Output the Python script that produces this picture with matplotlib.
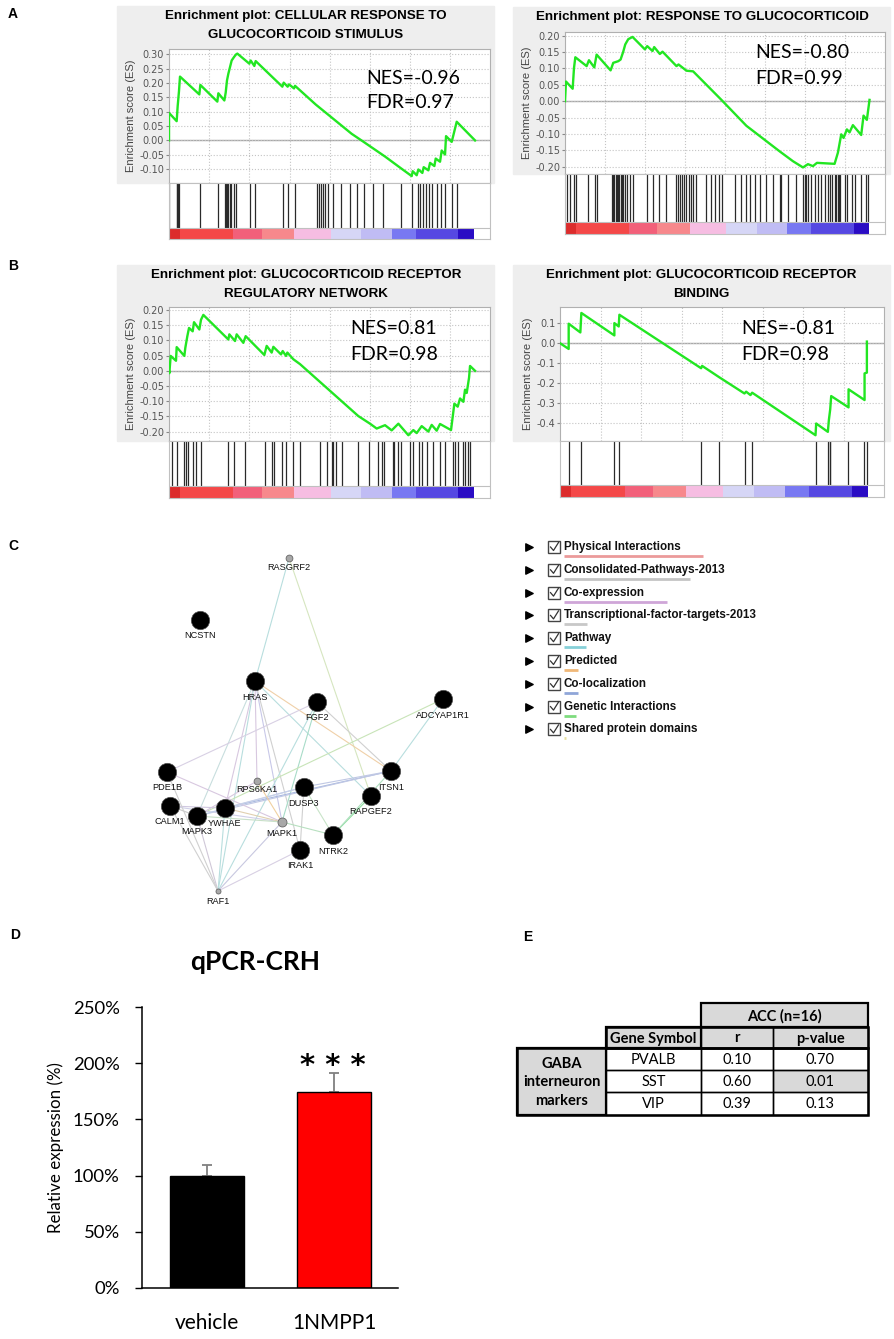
import matplotlib
matplotlib.use("Agg")
import matplotlib.pyplot as plt
import numpy as np

W, H = 895, 1339

# ---------------- GSEA data (rank in ranked gene list, running ES) ----------------
list_len = 19000

es_a1_x = [0, 0, 477, 539, 622, 684, 1887, 1950, 3007, 3070, 3443, 3526, 3609, 3692, 3795, 3899,
           4044, 4169, 4252, 4998, 5081, 5309, 5392, 7052, 7135, 7383, 7466, 7777, 7840, 9126,
           11365, 12029, 13440, 14435, 15099, 15161, 15410, 15514, 15762, 15845, 16136, 16240,
           16509, 16592, 16862, 16965, 17173, 17235, 17588, 17899, 19040]
es_a1_y = [0.000, 0.096, 0.067, 0.119, 0.172, 0.222, 0.160, 0.193, 0.135, 0.164, 0.139, 0.166,
           0.209, 0.232, 0.255, 0.278, 0.290, 0.299, 0.302, 0.267, 0.278, 0.259, 0.276, 0.187,
           0.201, 0.187, 0.195, 0.181, 0.190, 0.125, 0.023, -0.002, -0.056, -0.097, -0.124,
           -0.107, -0.121, -0.101, -0.113, -0.093, -0.104, -0.078, -0.089, -0.063, -0.074,
           -0.035, -0.049, 0.015, -0.005, 0.065, 0.000]
hits_a1 = [0, 477, 518, 581, 643, 1929, 3028, 3484, 3546, 3609, 3692, 3775, 3858, 4024, 4190,
           5039, 5350, 7114, 7425, 7840, 9188, 9334, 9458, 9583, 9707, 9915, 10226, 10703, 11261,
           11676, 12153, 12712, 13335, 14435, 15099, 15472, 15617, 15804, 15970, 16177, 16343,
           16654, 16924, 17173, 17629, 17899]

es_a2_x = [0, 62, 478, 561, 644, 1350, 1495, 1828, 1973, 2845, 3012, 3323, 3469, 3635, 3759,
           3946, 4216, 4985, 5130, 5462, 5566, 5919, 6086, 6958, 7083, 7581, 7996, 9762, 11320,
           12358, 13397, 14227, 14851, 15162, 15474, 15723, 16824, 17031, 17239, 17384, 17592,
           17758, 17966, 18485, 18630, 18838, 19004]
es_a2_y = [0.000, 0.060, 0.038, 0.101, 0.134, 0.107, 0.125, 0.103, 0.142, 0.094, 0.117, 0.122,
           0.127, 0.151, 0.173, 0.189, 0.196, 0.158, 0.168, 0.153, 0.165, 0.144, 0.151, 0.107,
           0.112, 0.093, 0.091, 0.004, -0.075, -0.114, -0.153, -0.183, -0.202, -0.192, -0.198,
           -0.188, -0.191, -0.157, -0.101, -0.112, -0.086, -0.095, -0.073, -0.103, -0.044,
           -0.057, 0.004]
hits_a2 = [104, 312, 561, 685, 1454, 1869, 2015, 2908, 3012, 3074, 3157, 3219, 3302, 3386, 3469,
           3552, 3635, 3739, 3842, 4050, 4216, 5089, 5462, 5878, 6293, 6958, 7062, 7166, 7332,
           7456, 7581, 7726, 7851, 7996, 8204, 8827, 9139, 9347, 9617, 9824, 10593, 11008, 11320,
           11527, 11839, 12150, 12566, 12981, 13397, 13501, 13916, 14435, 14851, 14955, 15059,
           15162, 15370, 15578, 15785, 15993, 16201, 16408, 16554, 16678, 16824, 16928, 17031,
           17094, 17177, 17447, 17592, 17925, 18070, 18485, 18755, 18900]

es_b1_x = [0, 21, 104, 436, 477, 954, 1016, 1141, 1245, 1473, 1556, 1887, 1991, 2136, 3692, 3754,
           4107, 4210, 4625, 4770, 5932, 6077, 6388, 6492, 6969, 7073, 7280, 7363, 7736, 8151,
           11780, 12506, 12921, 13440, 13854, 14269, 14891, 15202, 15410, 15721, 16136, 16343,
           16654, 16862, 17546, 17753, 17961, 18106, 18313, 18417, 18521, 18666, 18728, 19040]
es_b1_y = [0.000, -0.008, 0.049, 0.033, 0.078, 0.049, 0.076, 0.114, 0.141, 0.130, 0.160, 0.136,
           0.168, 0.184, 0.103, 0.120, 0.098, 0.120, 0.092, 0.114, 0.052, 0.082, 0.060, 0.079,
           0.054, 0.065, 0.049, 0.060, 0.038, 0.022, -0.149, -0.174, -0.190, -0.179, -0.196,
           -0.174, -0.212, -0.195, -0.205, -0.182, -0.200, -0.178, -0.197, -0.175, -0.195,
           -0.108, -0.118, -0.091, -0.102, -0.062, -0.073, -0.023, 0.016, 0.000]
hits_b1 = [207, 477, 954, 1037, 1161, 1514, 1659, 1991, 3692, 4044, 4729, 5973, 6388, 6554, 7052,
           7259, 7736, 8151, 9395, 9810, 10121, 10225, 10391, 10743, 11780, 12444, 12983, 13232,
           13398, 13917, 14020, 14269, 14435, 14995, 15202, 15555, 15721, 16032, 16447, 16862,
           17173, 17691, 17795, 18002, 18313, 18417, 18624, 18728]

es_b2_x = [0, 535, 535, 1254, 1316, 3351, 3351, 3619, 3660, 8697, 8758, 9828, 11370, 11473, 11740,
           11843, 15749, 15790, 16510, 16571, 16654, 16715, 17785, 17785, 18772, 18772, 18915, 18915]
es_b2_y = [0.000, -0.029, 0.098, 0.054, 0.152, 0.039, 0.101, 0.084, 0.143, -0.126, -0.114, -0.172,
           -0.253, -0.244, -0.261, -0.249, -0.463, -0.404, -0.446, -0.387, -0.333, -0.266, -0.323,
           -0.232, -0.286, -0.152, -0.148, 0.008]
hits_b2 = [535, 1295, 3351, 3619, 8697, 9828, 11411, 11843, 15749, 16510, 16612, 16654, 17765,
           18710, 18915]

heat_bounds = [0, 680, 4000, 5760, 7790, 10070, 11970, 13870, 15350, 18010, 19000]
heat_colors = ['#dc2c2c', '#f44848', '#f2607a', '#f7888c', '#f6bde2', '#d6d6f6', '#c0bcf4',
               '#7878f2', '#5648e2', '#2a0cc4']

titles = [["Enrichment plot: CELLULAR RESPONSE TO", "GLUCOCORTICOID STIMULUS"],
          ["Enrichment plot: RESPONSE TO GLUCOCORTICOID"],
          ["Enrichment plot: GLUCOCORTICOID RECEPTOR", "REGULATORY NETWORK"],
          ["Enrichment plot: GLUCOCORTICOID RECEPTOR", "BINDING"]]
nes_vals = ["-0.96", "-0.80", "0.81", "-0.81"]
fdr_vals = ["0.97", "0.99", "0.98", "0.98"]

# ---------------- network data ----------------
node_names = ['RASGRF2', 'NCSTN', 'HRAS', 'FGF2', 'ADCYAP1R1', 'PDE1B', 'RPS6KA1', 'DUSP3',
              'ITSN1', 'RAPGEF2', 'CALM1', 'MAPK3', 'YWHAE', 'MAPK1', 'NTRK2', 'IRAK1', 'RAF1']
node_x = [289, 200, 255, 317, 443, 167, 257, 304, 391, 371, 170, 197, 225, 282, 333, 300, 218]
node_y = [558, 620, 681, 702, 699, 772, 781, 787, 771, 796, 806, 816, 808, 822, 835, 850, 891]
node_kind = ['s', 'b', 'b', 'b', 'b', 'b', 's', 'b', 'b', 'b', 'b', 'b', 'b', 'm', 'b', 'b', 'x']
edges = [('RASGRF2', 'HRAS', '#b8dede'), ('RASGRF2', 'RAPGEF2', '#d6e6c0'),
         ('HRAS', 'ITSN1', '#f0d0a8'), ('HRAS', 'RAPGEF2', '#b8dede'),
         ('HRAS', 'MAPK3', '#c8dede'), ('HRAS', 'YWHAE', '#d8c8e0'),
         ('HRAS', 'RPS6KA1', '#d8c8e0'), ('HRAS', 'MAPK1', '#c8c8e8'),
         ('HRAS', 'IRAK1', '#d0d0d0'), ('HRAS', 'RAF1', '#b8dede'),
         ('FGF2', 'PDE1B', '#d8d0e4'), ('FGF2', 'ITSN1', '#d0d0d0'),
         ('FGF2', 'MAPK1', '#a8dcc8'), ('FGF2', 'RAF1', '#b8dede'),
         ('ADCYAP1R1', 'MAPK3', '#c8e4b8'), ('ADCYAP1R1', 'ITSN1', '#b8dede'),
         ('ITSN1', 'YWHAE', '#a8b8e0'), ('ITSN1', 'MAPK3', '#c0c8e4'),
         ('ITSN1', 'DUSP3', '#c0c8e4'), ('RAPGEF2', 'NTRK2', '#90e0a0'),
         ('ITSN1', 'NTRK2', '#b0e0c0'), ('DUSP3', 'NTRK2', '#c8e4c8'),
         ('DUSP3', 'IRAK1', '#d0d0d0'), ('MAPK1', 'NTRK2', '#b8e0c0'),
         ('PDE1B', 'MAPK1', '#d8c8e0'), ('CALM1', 'MAPK3', '#c8c8c8'),
         ('CALM1', 'YWHAE', '#d0c8e0'), ('CALM1', 'MAPK1', '#d0d0e8'),
         ('YWHAE', 'MAPK1', '#e0d0b0'), ('MAPK3', 'MAPK1', '#c8e0c8'),
         ('MAPK3', 'DUSP3', '#c0d0e8'), ('YWHAE', 'DUSP3', '#c8d0e8'),
         ('RAF1', 'MAPK3', '#d0c8d8'), ('RAF1', 'YWHAE', '#b8dede'),
         ('RAF1', 'MAPK1', '#c8c8e0'), ('RAF1', 'CALM1', '#d0d0d0'),
         ('RAF1', 'IRAK1', '#d8d0e4'), ('RAF1', 'PDE1B', '#d0d0d0'),
         ('RPS6KA1', 'MAPK1', '#f0d0a0'), ('RPS6KA1', 'MAPK3', '#d8c8e0')]

net_types = ['Physical Interactions', 'Consolidated-Pathways-2013', 'Co-expression',
             'Transcriptional-factor-targets-2013', 'Pathway', 'Predicted', 'Co-localization',
             'Genetic Interactions', 'Shared protein domains']
net_colors = ['#eb9a9a', '#c4c4c4', '#cfa6d8', '#c8c8c8', '#86d0d8', '#f0b878', '#8fa6d8',
              '#7edc7e', '#e8e0a0']
net_weights = [139, 126, 103, 23, 22, 14, 14, 12, 2]

# ---------------- qPCR data ----------------
groups = ['vehicle', '1NMPP1']
expr = [100, 174]
expr_err = [9, 17]

# ---------------- table data ----------------
genes = ['PVALB', 'SST', 'VIP']
r_vals = [0.10, 0.60, 0.39]
p_vals = [0.70, 0.01, 0.13]


def fx(x):
    return x / W


def fy(y):
    return 1 - y / H


def px_box(l, t, r, b):
    return [l / W, 1 - b / H, (r - l) / W, (b - t) / H]


fig = plt.figure(figsize=(W / 100, H / 100), dpi=100)
ov = fig.add_axes([0, 0, 1, 1])
ov.set_xlim(0, W)
ov.set_ylim(H, 0)
ov.axis('off')

# panel labels
for lab, (lx, ly) in zip('ABCDE', [(13, 14), (13, 266), (13, 546), (15, 935), (528, 937)]):
    fig.text(fx(lx), fy(ly), lab, fontsize=10, fontweight='bold', ha='center', va='center',
             family='Liberation Sans')

# ---------------- GSEA panels ----------------
panels = [
    dict(box=(117, 6, 494, 183), es=(169, 49, 490, 183), hit=(169, 183, 490, 239), heat=228,
         ty=[16, 35], tx=306, ylim=(-0.148, 0.318), yt=np.arange(-0.10, 0.301, 0.05), fmt='%.2f',
         x=es_a1_x, y=es_a1_y, hits=hits_a1, nes=(366, 79, 103)),
    dict(box=(513, 7, 890, 174), es=(565, 32, 885, 174), hit=(565, 174, 885, 234), heat=222,
         ty=[17], tx=702, ylim=(-0.222, 0.211), yt=np.arange(-0.20, 0.201, 0.05), fmt='%.2f',
         x=es_a2_x, y=es_a2_y, hits=hits_a2, nes=(755, 53, 78)),
    dict(box=(117, 265, 494, 441), es=(169, 307, 490, 441), hit=(169, 441, 490, 498), heat=486,
         ty=[275, 294], tx=306, ylim=(-0.231, 0.21), yt=np.arange(-0.20, 0.201, 0.05), fmt='%.2f',
         x=es_b1_x, y=es_b1_y, hits=hits_b1, nes=(350, 329, 355)),
    dict(box=(513, 265, 890, 441), es=(560, 307, 884, 441), hit=(560, 441, 884, 497), heat=485,
         ty=[275, 294], tx=701, ylim=(-0.492, 0.182), yt=np.arange(-0.4, 0.11, 0.1), fmt='%.1f',
         x=es_b2_x, y=es_b2_y, hits=hits_b2, nes=(741, 329, 355)),
]
xmax = 19970

for i, p in enumerate(panels):
    l, t, r, b = p['box']
    ov.add_patch(plt.Rectangle((l, t), r - l, b - t, color='#eeeeee', zorder=0))
    for line, yy in zip(titles[i], p['ty']):
        fig.text(fx(p['tx']), fy(yy), line, fontsize=9.6, fontweight='bold', ha='center',
                 va='center', family='Liberation Sans')

    ax = fig.add_axes(px_box(*p['es']))
    ax.set_xlim(0, xmax)
    ax.set_ylim(*p['ylim'])
    ax.set_yticks(p['yt'])
    ax.set_yticklabels([p['fmt'] % v if abs(v) > 1e-9 else p['fmt'] % 0 for v in p['yt']])
    ax.set_xticks(np.arange(2500, xmax, 2500))
    ax.tick_params(axis='x', length=0, labelbottom=False)
    ax.tick_params(axis='y', length=2, color='#888888', labelsize=7, labelcolor='#555555', pad=1.5)
    ax.grid(True, linestyle=':', color='#c4c4c4', lw=0.8)
    ax.axhline(0, color='#a8a8a8', lw=1, zorder=1)
    for s in ax.spines.values():
        s.set_color('#b0b0b0')
    ax.plot(p['x'], p['y'], color='#22e622', lw=1.7, zorder=3)
    ax.set_ylabel('Enrichment score (ES)', fontsize=8, color='#444444', labelpad=2,
                  family='Liberation Sans')

    hx = fig.add_axes(px_box(*p['hit']))
    hx.set_xlim(0, xmax)
    hx.set_ylim(0, 1)
    hf = (p['hit'][3] - p['heat']) / (p['hit'][3] - p['hit'][1])
    hx.vlines(p['hits'], hf, 1, color='#2a2a2a', lw=0.9)
    for k in range(len(heat_colors)):
        hx.add_patch(plt.Rectangle((heat_bounds[k], 0), heat_bounds[k + 1] - heat_bounds[k], hf,
                                   color=heat_colors[k], lw=0))
    hx.axhline(hf, color='#c0c0c0', lw=0.8)
    hx.set_xticks([])
    hx.set_yticks([])
    for s in hx.spines.values():
        s.set_color('#c0c0c0')

    nx_, ny1, ny2 = p['nes']
    fig.text(fx(nx_), fy(ny1), 'NES=' + nes_vals[i], fontsize=14, ha='left', va='center',
             family='Lato')
    fig.text(fx(nx_), fy(ny2), 'FDR=' + fdr_vals[i], fontsize=14, ha='left', va='center',
             family='Lato')

# ---------------- panel C: network ----------------
pos = {n: (x, y) for n, x, y in zip(node_names, node_x, node_y)}
for a, b_, c in edges:
    ov.plot([pos[a][0], pos[b_][0]], [pos[a][1], pos[b_][1]], color=c, lw=0.8, zorder=1)
size_map = {'b': 175, 'm': 42, 's': 24, 'x': 13}
off_map = {'b': 16, 'm': 11, 's': 9, 'x': 11}
for n, k in zip(node_names, node_kind):
    x, y = pos[n]
    if k == 'b':
        ov.scatter([x], [y], s=size_map[k], color='black', edgecolor='#555555', lw=0.5, zorder=3)
    else:
        ov.scatter([x], [y], s=size_map[k], color='#a8a8a8', edgecolor='#666666', lw=0.6, zorder=3)
    ov.text(x, y + off_map[k], n, fontsize=6.6, ha='center', va='center', zorder=4,
            family='Liberation Sans', color='#111111')

# legend list of network types
for j, (name, col, wgt) in enumerate(zip(net_types, net_colors, net_weights)):
    yy = 547 + j * 22.8
    ov.scatter([529], [yy], marker='>', s=28, color='black', zorder=3)
    ov.add_patch(plt.Rectangle((548, yy - 6), 12, 12, fill=False, ec='#444444', lw=1, zorder=3))
    ov.plot([550.5, 553.5, 558.5], [yy, yy + 3.5, yy - 4.5], color='#333333', lw=0.9, zorder=3)
    ov.text(564, yy, name, fontsize=8.4, fontweight='bold', ha='left', va='center',
            family='Liberation Sans', color='#111111')
    ov.plot([564, 564 + wgt], [yy + 9, yy + 9], color=col, lw=2, solid_capstyle='butt')

# ---------------- panel D: qPCR bar chart ----------------
fig.text(fx(255), fy(962), 'qPCR-CRH', fontsize=19, fontweight='bold', ha='center',
         va='center', family='Lato')
axd = fig.add_axes(px_box(142, 1007, 398, 1288))
axd.bar([0, 1], expr, width=0.59, color=['black', 'red'], edgecolor='black', lw=1, zorder=2)
axd.errorbar([0, 1], expr, yerr=[[0, 0], expr_err], fmt='none', ecolor='#808080',
             elinewidth=1.3, capsize=3.5, capthick=1.3, zorder=1)
axd.set_xlim(-0.512, 1.504)
axd.set_ylim(0, 250)
axd.set_yticks(range(0, 251, 50))
axd.set_yticklabels(['%d%%' % v for v in range(0, 251, 50)], family='Lato', fontsize=13.3)
axd.set_xticks([0, 1])
axd.set_xticklabels(groups, family='Lato', fontsize=15)
axd.tick_params(axis='x', length=0, pad=18)
axd.tick_params(axis='y', length=5, width=1, pad=11)
axd.spines['top'].set_visible(False)
axd.spines['right'].set_visible(False)
axd.spines['left'].set_linewidth(1.1)
axd.spines['bottom'].set_linewidth(1.1)
axd.set_ylabel('Relative expression (%)', family='Lato', fontsize=12.2, labelpad=6)
fig.text(fx(333), fy(1066), '* * *', fontsize=21, fontweight='bold', ha='center', va='center',
         family='DejaVu Sans')

# ---------------- panel E: table ----------------
gx = [517, 606, 701, 773, 868]
gy = [1003, 1027, 1048, 1070, 1092, 1115]
grey = '#d9d9d9'


def cell(x0, y0, x1, y1, txt, bold=False, fill=None, lw=1):
    if fill:
        ov.add_patch(plt.Rectangle((x0, y0), x1 - x0, y1 - y0, color=fill, lw=0, zorder=1))
    ov.add_patch(plt.Rectangle((x0, y0), x1 - x0, y1 - y0, fill=False, ec='black', lw=lw, zorder=2))
    ov.text((x0 + x1) / 2, (y0 + y1) / 2 + 1, txt, fontsize=10.5, ha='center', va='center',
            fontweight='bold' if bold else 'normal', family='Lato', zorder=3, linespacing=1.45)


cell(gx[2], gy[0], gx[4], gy[1], 'ACC (n=16)', True, grey, 1.6)
cell(gx[1], gy[1], gx[2], gy[2], 'Gene Symbol', True, grey, 1.6)
cell(gx[2], gy[1], gx[3], gy[2], 'r', True, grey, 1)
cell(gx[3], gy[1], gx[4], gy[2], 'p-value', True, grey, 1)
cell(gx[0], gy[2], gx[1], gy[5], 'GABA\ninterneuron\nmarkers', True, grey, 1.6)
for k in range(3):
    cell(gx[1], gy[2 + k], gx[2], gy[3 + k], genes[k])
    cell(gx[2], gy[2 + k], gx[3], gy[3 + k], '%.2f' % r_vals[k])
    cell(gx[3], gy[2 + k], gx[4], gy[3 + k], '%.2f' % p_vals[k],
         fill=grey if p_vals[k] < 0.05 else None)
ov.add_patch(plt.Rectangle((gx[1], gy[1]), gx[4] - gx[1], gy[2] - gy[1], fill=False, ec='black',
                           lw=1.8, zorder=4))
ov.add_patch(plt.Rectangle((gx[0], gy[2]), gx[4] - gx[0], gy[5] - gy[2], fill=False, ec='black',
                           lw=1.8, zorder=4))

fig.savefig('out.png', dpi=100)
